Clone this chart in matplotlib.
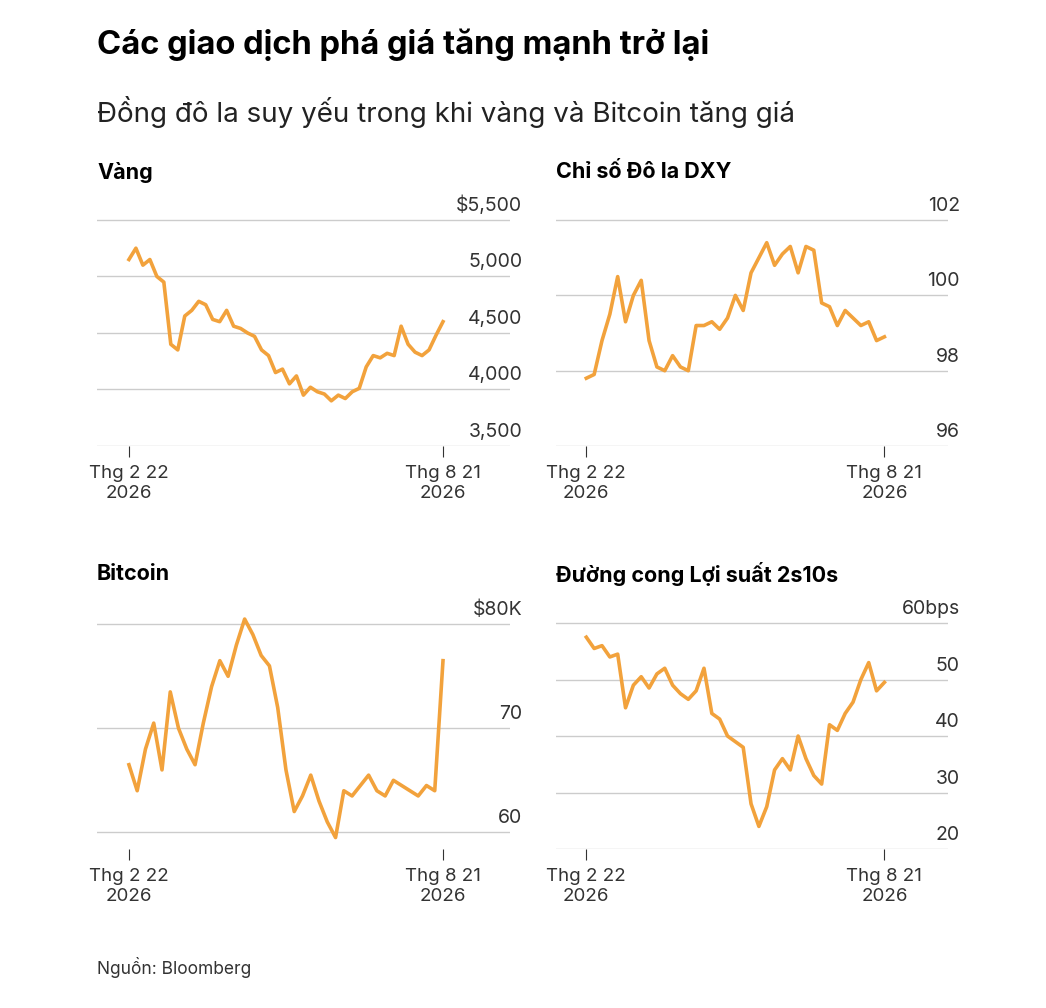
import numpy as np
import pandas as pd
import matplotlib.pyplot as plt
import matplotlib.transforms as mtransforms

plt.rcParams['font.family'] = ['Inter', 'DejaVu Sans']

gold = [5150, 5250, 5100, 5150, 5000, 4950, 4400, 4350, 4650, 4700, 4780, 4750,
        4620, 4600, 4700, 4560, 4540, 4500, 4470, 4350, 4300, 4150, 4180, 4050,
        4120, 3950, 4020, 3980, 3960, 3900, 3950, 3920, 3980, 4010, 4200, 4300,
        4280, 4320, 4300, 4560, 4400, 4330, 4300, 4350, 4480, 4600]
dxy = [97.8, 97.9, 98.8, 99.5, 100.5, 99.3, 100.0, 100.4, 98.8, 98.1, 98.0, 98.4,
       98.1, 98.0, 99.2, 99.2, 99.3, 99.1, 99.4, 100.0, 99.6, 100.6, 101.0, 101.4,
       100.8, 101.1, 101.3, 100.6, 101.3, 101.2, 99.8, 99.7, 99.2, 99.6, 99.4, 99.2,
       99.3, 98.8, 98.9]
btc = [66.5, 64.0, 68.0, 70.5, 66.0, 73.5, 70.0, 68.0, 66.5, 70.5, 74.0, 76.5,
       75.0, 78.0, 80.5, 79.0, 77.0, 76.0, 72.0, 66.0, 62.0, 63.5, 65.5, 63.0,
       61.0, 59.5, 64.0, 63.5, 64.5, 65.5, 64.0, 63.5, 65.0, 64.5, 64.0, 63.5,
       64.5, 64.0, 76.5]
curve = [57.5, 55.5, 56.0, 54.0, 54.5, 45.0, 49.0, 50.5, 48.5, 51.0, 52.0, 49.0,
         47.5, 46.5, 48.0, 52.0, 44.0, 43.0, 40.0, 39.0, 38.0, 28.0, 24.0, 27.5,
         34.0, 36.0, 34.0, 40.0, 36.0, 33.0, 31.5, 42.0, 41.0, 44.0, 46.0, 50.0,
         53.0, 48.0, 49.5]

panels = [
    ('Vàng', gold, [5500, 5000, 4500, 4000, 3500],
     ['$5,500', '5,000', '4,500', '4,000', '3,500'], (3500, 5765)),
    ('Chỉ số Đô la DXY', dxy, [102, 100, 98, 96],
     ['102', '100', '98', '96'], (96, 102.8)),
    ('Bitcoin', btc, [80, 70, 60], ['$80K', '70', '60'], (58.4, 83.1)),
    ('Đường cong Lợi suất 2s10s', curve, [60, 50, 40, 30, 20],
     ['60bps', '50', '40', '30', '20'], (20, 65.5)),
]
rects = [(97, 190, 510, 446), (556, 190, 948, 446),
         (97, 592, 510, 849), (556, 592, 948, 849)]

W, H = 1046, 1008
fig = plt.figure(figsize=(W / 100, H / 100), dpi=100)
fig.text(97 / W, 1 - 45 / H, 'Các giao dịch phá giá tăng mạnh trở lại',
         fontsize=23.5, fontweight='bold', va='center')
fig.text(97 / W, 1 - 112 / H, 'Đồng đô la suy yếu trong khi vàng và Bitcoin tăng giá',
         fontsize=20, va='center', color='#222222')
fig.text(97 / W, 1 - 967 / H, 'Nguồn: Bloomberg', fontsize=12.5, va='center', color='#333333')

start, end = pd.Timestamp('2026-02-22'), pd.Timestamp('2026-08-21')
for (title, vals, yt, yl, ylim), (l, t, r, b) in zip(panels, rects):
    ax = fig.add_axes([l / W, 1 - b / H, (r - l) / W, (b - t) / H])
    x = pd.date_range(start, end, periods=len(vals))
    ax.plot(x, vals, color='#F2A23C', lw=2.6, zorder=3)
    ax.set_ylim(*ylim)
    ax.set_xlim(start - pd.Timedelta(days=18.3), end + pd.Timedelta(days=38.4))
    for v in yt:
        ax.axhline(v, color='#cccccc', lw=1, zorder=1)
    trans = mtransforms.blended_transform_factory(ax.transAxes, ax.transData)
    trans = trans + mtransforms.ScaledTranslation(0, 5 / 100, fig.dpi_scale_trans)
    for v, s in zip(yt, yl):
        ax.text(1.03, v, s, transform=trans, ha='right', va='bottom', fontsize=14,
                color='#333333')
    for s in ax.spines.values():
        s.set_visible(False)
    ax.set_yticks([])
    ax.set_xticks([start, end])
    ax.set_xticklabels(['Thg 2 22\n2026', 'Thg 8 21\n2026'], fontsize=13.5, color='#333333')
    ax.tick_params(axis='x', length=8, color='#333333', pad=6)
    fig.text(l / W, 1 - (t - 18) / H, title, fontsize=15.5, fontweight='bold', va='center')

fig.savefig('out.png', dpi=100)
